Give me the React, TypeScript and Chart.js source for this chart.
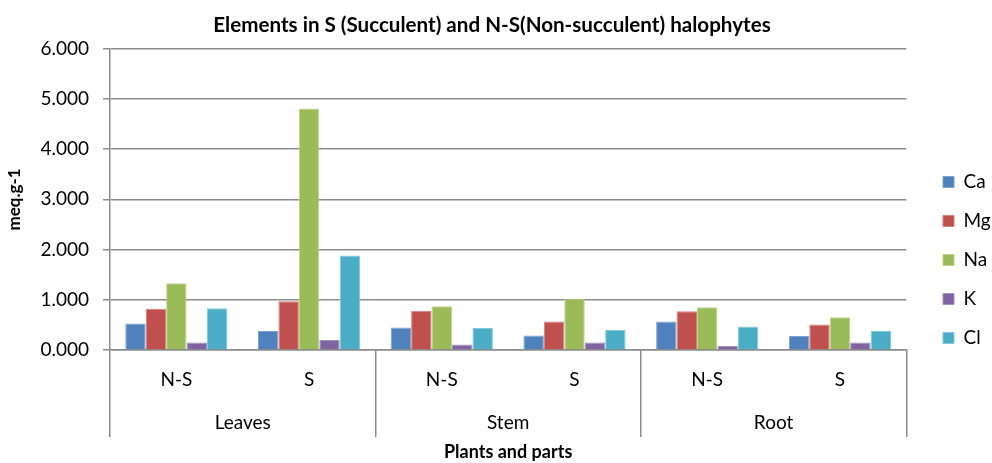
import React, { useEffect, useRef } from "react";
import { Chart, registerables } from "chart.js";

Chart.register(...registerables);

const subCategories = ["N-S", "S", "N-S", "S", "N-S", "S"];
const groups = ["Leaves", "Stem", "Root"];
const ca = [0.53, 0.38, 0.45, 0.29, 0.57, 0.28];
const mg = [0.82, 0.97, 0.78, 0.57, 0.77, 0.51];
const na = [1.33, 4.81, 0.87, 1.02, 0.85, 0.65];
const k = [0.15, 0.2, 0.11, 0.15, 0.08, 0.15];
const cl = [0.83, 1.88, 0.44, 0.4, 0.47, 0.38];
const yTicks = [0, 1, 2, 3, 4, 5, 6];

const FONT = "Lato, 'Noto Sans', sans-serif";
const GRID = "#8c8c8c";

const series = [
  { label: "Ca", data: ca, color: "#4F81BD", border: "#7da0cd" },
  { label: "Mg", data: mg, color: "#C0504D", border: "#d27f7c" },
  { label: "Na", data: na, color: "#9BBB59", border: "#bcd38e" },
  { label: "K", data: k, color: "#8064A2", border: "#a490bd" },
  { label: "Cl", data: cl, color: "#4BACC6", border: "#83c7d9" },
];

const LEGEND_PAD = 20;
const LEGEND_FONT = 19;

const legendShift = {
  id: "legendShift",
  afterLayout(chart: any) {
    const l = chart.legend;
    if (!l) return;
    const w = l.width;
    const h = l.height;
    l.left = 943 - LEGEND_PAD;
    l.right = l.left + w;
    l.top = 182 - LEGEND_FONT / 2 - LEGEND_PAD;
    l.bottom = l.top + h;
  },
};

export default function App() {
  const ref = useRef<HTMLCanvasElement | null>(null);
  useEffect(() => {
    document.body.style.margin = "0";
    const ctx = ref.current!;
    const chart = new Chart(ctx, {
      type: "bar",
      data: {
        labels: subCategories,
        datasets: series.map((s) => ({
          label: s.label,
          data: s.data,
          backgroundColor: s.color,
          borderColor: s.border,
          borderWidth: 1,
          categoryPercentage: 0.77,
          barPercentage: 1,
          xAxisID: "x",
        })),
      },
      options: {
        animation: false,
        responsive: false,
        layout: { padding: { left: 0, right: 8, top: 0, bottom: 0 } },
        plugins: {
          tooltip: { enabled: false },
          title: {
            display: true,
            text: "Elements in S (Succulent) and N-S(Non-succulent) halophytes",
            color: "#000",
            font: { family: FONT, size: 20.6, weight: "bold" },
            padding: { top: 13, bottom: 11 },
          },
          legend: {
            position: "right",
            align: "start",
            labels: {
              color: "#000",
              font: { family: FONT, size: LEGEND_FONT },
              boxWidth: 11,
              boxHeight: 11,
              padding: LEGEND_PAD,
            },
          },
        },
        scales: {
          y: {
            min: 0,
            max: 6,
            afterFit: (s: any) => {
              s.width = 110;
            },
            afterBuildTicks: (s: any) => {
              s.ticks = yTicks.map((v) => ({ value: v }));
            },
            ticks: {
              color: "#000",
              font: { family: FONT, size: 19 },
              padding: 14,
              callback: (v: any) => Number(v).toFixed(3),
            },
            grid: { color: GRID, lineWidth: 1.5, tickLength: 7 },
            border: { display: true, color: GRID, width: 1.5 },
            title: {
              display: true,
              text: "meq.g-1",
              color: "#000",
              font: { family: FONT, size: 17, weight: "bold" },
              padding: { top: 4, bottom: 0 },
            },
          },
          x: {
            type: "category",
            position: "bottom",
            offset: true,
            afterFit: (s: any) => {
              s.height = 38;
            },
            grid: {
              display: true,
              offset: true,
              drawOnChartArea: false,
              drawTicks: true,
              tickLength: 87,
              lineWidth: 1.5,
              color: (c: any) =>
                c.index === undefined || c.index % 2 === 0 ? GRID : "rgba(0,0,0,0)",
            },
            border: { display: true, color: GRID, width: 1.5 },
            ticks: {
              color: "#000",
              font: { family: FONT, size: 19 },
              padding: -69,
              maxRotation: 0,
              autoSkip: false,
            },
          },
          x2: {
            type: "category",
            position: "bottom",
            labels: groups,
            offset: true,
            afterFit: (s: any) => {
              s.height = 75;
            },
            grid: { display: false, drawTicks: false },
            border: { display: false },
            ticks: {
              color: "#000",
              font: { family: FONT, size: 19 },
              padding: 23,
              maxRotation: 0,
            },
            title: {
              display: true,
              text: "Plants and parts",
              color: "#000",
              font: { family: FONT, size: 18, weight: "bold" },
              padding: { top: 12, bottom: 0 },
            },
          },
        },
      } as any,
      plugins: [legendShift],
    });
    return () => chart.destroy();
  }, []);
  return (
    <div style={{ width: 992, height: 463 }}>
      <canvas ref={ref} width={992} height={463} />
    </div>
  );
}
